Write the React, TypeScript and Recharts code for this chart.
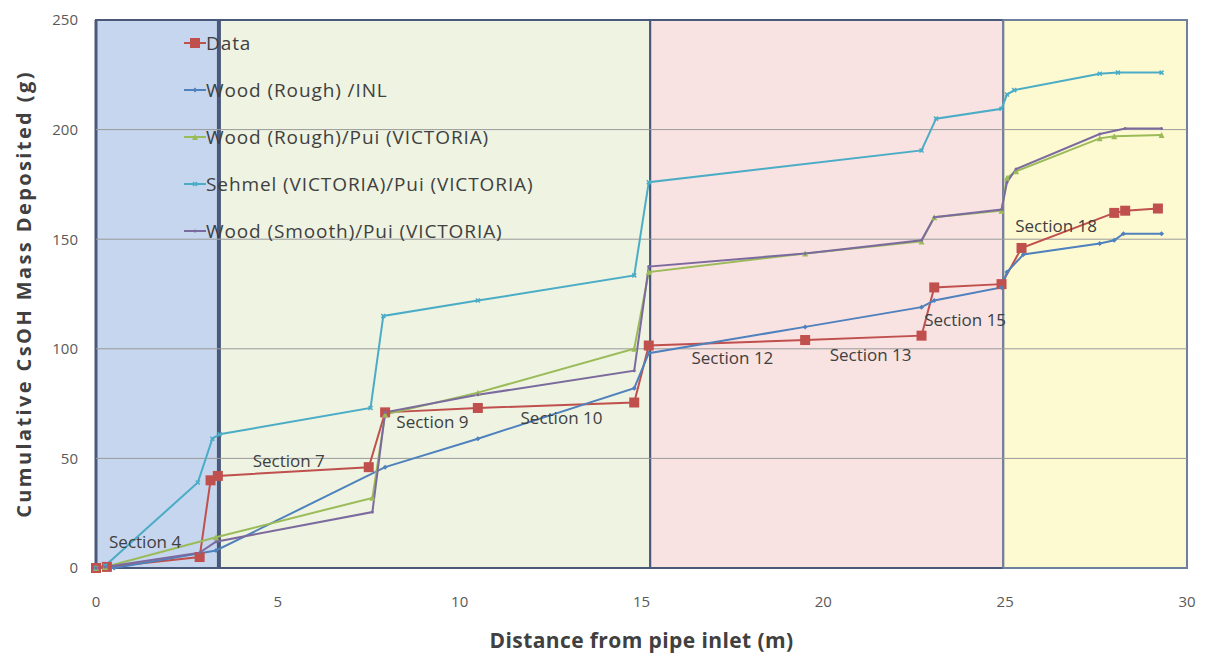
import {
  LineChart,
  Line,
  XAxis,
  YAxis,
  ReferenceArea,
  ReferenceLine,
  ReferenceDot,
} from "recharts";

type Pt = { x: number; y: number };

const xTicks = [0, 5, 10, 15, 20, 25, 30];
const yTicks = [0, 50, 100, 150, 200, 250];

// measured series (distance m, cumulative mass g)
const dataPts: Pt[] = [
  { x: 0, y: 0 }, { x: 0.3, y: 0.5 }, { x: 2.85, y: 5 }, { x: 3.15, y: 40 },
  { x: 3.35, y: 42 }, { x: 7.5, y: 46 }, { x: 7.95, y: 71 }, { x: 10.5, y: 73 },
  { x: 14.8, y: 75.5 }, { x: 15.2, y: 101.5 }, { x: 19.5, y: 104 }, { x: 22.7, y: 106 },
  { x: 23.05, y: 128 }, { x: 24.9, y: 129.5 }, { x: 25.45, y: 146 }, { x: 28.0, y: 162 },
  { x: 28.3, y: 163 }, { x: 29.2, y: 164 },
];

const woodRoughInl: Pt[] = [
  { x: 0, y: 0 }, { x: 0.25, y: 1 }, { x: 0.5, y: 0 }, { x: 3.3, y: 8 },
  { x: 7.95, y: 46 }, { x: 10.5, y: 59 }, { x: 14.8, y: 82 }, { x: 15.2, y: 98 },
  { x: 19.5, y: 110 }, { x: 22.7, y: 119 }, { x: 23.05, y: 122 }, { x: 24.9, y: 128 },
  { x: 25.05, y: 135 }, { x: 25.5, y: 143 }, { x: 27.6, y: 148 }, { x: 28.0, y: 149.5 },
  { x: 28.25, y: 152.5 }, { x: 29.3, y: 152.5 },
];

const woodRoughPui: Pt[] = [
  { x: 0, y: 0 }, { x: 0.25, y: 0.5 }, { x: 3.3, y: 14 }, { x: 7.6, y: 32 },
  { x: 7.95, y: 70 }, { x: 10.5, y: 80 }, { x: 14.8, y: 100 }, { x: 15.2, y: 135 },
  { x: 19.5, y: 143.5 }, { x: 22.7, y: 149 }, { x: 23.05, y: 160 }, { x: 24.9, y: 163 },
  { x: 25.05, y: 178 }, { x: 25.3, y: 181 }, { x: 27.6, y: 196 }, { x: 28.0, y: 197 },
  { x: 29.3, y: 197.5 },
];

const sehmelPui: Pt[] = [
  { x: 0, y: 0 }, { x: 0.25, y: 1 }, { x: 2.8, y: 39 }, { x: 3.2, y: 59 },
  { x: 3.4, y: 61 }, { x: 7.55, y: 73 }, { x: 7.9, y: 115 }, { x: 10.5, y: 122 },
  { x: 14.8, y: 133.5 }, { x: 15.2, y: 176 }, { x: 22.7, y: 190.5 }, { x: 23.1, y: 205 },
  { x: 24.9, y: 209.5 }, { x: 25.05, y: 216 }, { x: 25.25, y: 218 }, { x: 27.6, y: 225.5 },
  { x: 28.1, y: 226 }, { x: 29.3, y: 226 },
];

const woodSmoothPui: Pt[] = [
  { x: 0, y: 0 }, { x: 0.25, y: 0.5 }, { x: 2.85, y: 7 }, { x: 3.3, y: 12 },
  { x: 7.6, y: 25.5 }, { x: 7.95, y: 71 }, { x: 10.5, y: 79 }, { x: 14.8, y: 90 },
  { x: 15.2, y: 137.5 }, { x: 19.5, y: 143.5 }, { x: 22.7, y: 149.5 }, { x: 23.05, y: 160 },
  { x: 24.9, y: 163.5 }, { x: 25.05, y: 176 }, { x: 25.3, y: 182 }, { x: 27.6, y: 198 },
  { x: 28.3, y: 200.5 }, { x: 29.3, y: 200.5 },
];

const sectionLabels = [
  { name: "Section 4", x: 1.35, y: 12 },
  { name: "Section 7", x: 5.3, y: 49 },
  { name: "Section 9", x: 9.25, y: 66.5 },
  { name: "Section 10", x: 12.8, y: 68.5 },
  { name: "Section 12", x: 17.5, y: 96 },
  { name: "Section 13", x: 21.3, y: 97 },
  { name: "Section 15", x: 23.9, y: 113 },
  { name: "Section 18", x: 26.4, y: 156 },
];

const FONT = "'Open Sans', 'Liberation Sans', sans-serif";
const BORDER = "#4a587a";

const series = [
  { name: "Data", data: dataPts, color: "#c0504d", marker: "square", size: 10 },
  { name: "Wood (Rough) /INL", data: woodRoughInl, color: "#4f81bd", marker: "diamond", size: 5 },
  { name: "Wood (Rough)/Pui (VICTORIA)", data: woodRoughPui, color: "#9bbb59", marker: "triangle", size: 6 },
  { name: "Sehmel (VICTORIA)/Pui (VICTORIA)", data: sehmelPui, color: "#4bacc6", marker: "x", size: 4 },
  { name: "Wood (Smooth)/Pui (VICTORIA)", data: woodSmoothPui, color: "#7b6a9e", marker: "dot", size: 3 },
];

function Marker({ cx, cy, kind, size, color }: any) {
  if (cx == null || cy == null) return null;
  const h = size / 2;
  if (kind === "square")
    return <rect x={cx - h} y={cy - h} width={size} height={size} fill={color} />;
  if (kind === "diamond")
    return <polygon points={`${cx},${cy - h} ${cx + h},${cy} ${cx},${cy + h} ${cx - h},${cy}`} fill={color} />;
  if (kind === "triangle")
    return <polygon points={`${cx},${cy - h} ${cx + h},${cy + h} ${cx - h},${cy + h}`} fill={color} />;
  if (kind === "x")
    return (
      <path d={`M${cx - h},${cy - h}L${cx + h},${cy + h}M${cx - h},${cy + h}L${cx + h},${cy - h}`} stroke={color} strokeWidth={1.5} />
    );
  return <circle cx={cx} cy={cy} r={h} fill={color} />;
}

// legend sits inside the plot, drawn as an overlay so it doesn't eat plot space
function LegendBox() {
  return (
    <div
      style={{
        position: "absolute",
        left: 184,
        top: 19,
        fontFamily: FONT,
        fontSize: 19,
        letterSpacing: 0.9,
        color: "#404040",
        pointerEvents: "none",
      }}
    >
      {series.map((s) => (
        <div key={s.name} style={{ display: "flex", alignItems: "center", height: 47 }}>
          <svg width={22} height={12}>
            <line x1={0} y1={6} x2={22} y2={6} stroke={s.color} strokeWidth={2} />
            <Marker cx={11} cy={6} kind={s.marker} size={s.size} color={s.color} />
          </svg>
          <span>{s.name}</span>
        </div>
      ))}
    </div>
  );
}

export default function App() {
  return (
    <div style={{ position: "absolute", left: 0, top: 0, width: 1206, height: 657, background: "#fff" }}>
      <LineChart width={1206} height={657} margin={{ top: 20, right: 19, left: 0, bottom: 0 }}>
        <XAxis
          type="number"
          dataKey="x"
          domain={[0, 30]}
          ticks={xTicks}
          axisLine={false}
          tickLine={false}
          tickSize={0}
          tickMargin={28}
          height={89}
          tick={{ fontSize: 15, fill: "#595959", fontFamily: FONT }}
          label={{
            value: "Distance from pipe inlet (m)",
            position: "insideBottom",
            offset: 9,
            style: { fontSize: 21, letterSpacing: 0.4, fontWeight: "bold", fill: "#404040", fontFamily: FONT },
          }}
        />
        <YAxis
          type="number"
          domain={[0, 250]}
          ticks={yTicks}
          axisLine={false}
          tickLine={false}
          tickSize={0}
          tickMargin={18}
          width={96}
          tick={{ fontSize: 15, fill: "#595959", fontFamily: FONT }}
          label={{
            value: "Cumulative CsOH Mass Deposited (g)",
            angle: -90,
            position: "insideLeft",
            offset: 24,
            style: { textAnchor: "middle", fontSize: 20, letterSpacing: 2.4, fontWeight: "bold", fill: "#404040", fontFamily: FONT },
          }}
        />
        <ReferenceArea x1={0} x2={3.38} y1={0} y2={250} fill="#c6d6ee" fillOpacity={1} stroke={BORDER} strokeWidth={2} />
        <ReferenceArea x1={3.38} x2={15.24} y1={0} y2={250} fill="#eef3e2" fillOpacity={1} stroke={BORDER} strokeWidth={2} />
        <ReferenceArea x1={15.24} x2={24.95} y1={0} y2={250} fill="#f8e2e2" fillOpacity={1} stroke={BORDER} strokeWidth={2} />
        <ReferenceArea x1={24.95} x2={30} y1={0} y2={250} fill="#fdfad2" fillOpacity={1} stroke="#6f7f9e" strokeWidth={2} />
        <ReferenceLine x={0} stroke={BORDER} strokeWidth={3} />
        <ReferenceLine x={3.38} stroke={BORDER} strokeWidth={4} />
        {yTicks.slice(1, 5).map((v) => (
          <ReferenceLine key={v} y={v} stroke="#9a9a9a" strokeWidth={1} />
        ))}
        {sectionLabels.map((s) => (
          <ReferenceDot
            key={s.name}
            x={s.x}
            y={s.y}
            r={0}
            fill="none"
            stroke="none"
            label={{ value: s.name, position: "center", style: { fontSize: 17, fill: "#404040", fontFamily: FONT } }}
          />
        ))}
        {series.map((s) => (
          <Line
            key={s.name}
            data={s.data}
            dataKey="y"
            name={s.name}
            type="linear"
            stroke={s.color}
            strokeWidth={2}
            dot={(p: any) => <Marker key={`${s.name}-${p.index}`} cx={p.cx} cy={p.cy} kind={s.marker} size={s.size} color={s.color} />}
            activeDot={false}
            isAnimationActive={false}
          />
        ))}
      </LineChart>
      <LegendBox />
    </div>
  );
}
